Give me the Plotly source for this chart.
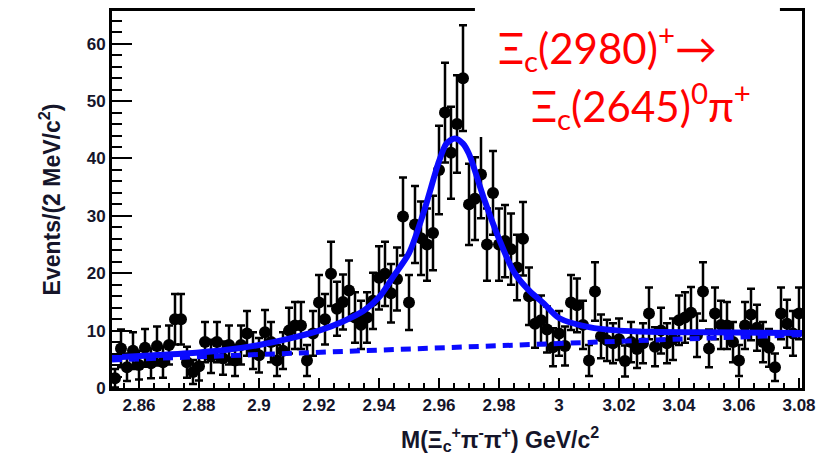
import plotly.graph_objects as go

# ---- histogram binning (2 MeV bins) ----
BIN_START = 2.852   # centre of first bin, GeV
BIN_WIDTH = 0.002

# events per bin
events = [
    1.7, 6.9, 3.6, 6.5, 4.0, 7.0, 4.3, 7.3, 4.5, 7.5,
    12.0, 12.0, 4.5, 2.8, 3.8, 8.0, 5.5, 8.0, 5.2, 7.5,
    4.8, 7.5, 9.5, 6.5, 5.7, 9.7, 8.0, 4.8, 6.5, 10.0,
    10.9, 10.9, 4.8, 9.5, 14.9, 12.0, 19.9, 13.8, 15.0, 17.0,
    12.3, 11.0, 12.3, 15.2, 19.2, 19.9, 16.5, 19.0, 29.9, 14.9,
    28.5, 26.1, 25.0, 27.0, 38.0, 48.0, 41.0, 46.0, 54.0, 32.0,
    33.0, 37.2, 25.0, 34.0, 25.0, 25.6, 24.2, 21.0, 26.0, 16.0,
    11.2, 11.8, 10.2, 7.1, 9.5, 7.3, 14.9, 14.4, 11.0, 4.8,
    16.8, 9.0, 8.3, 7.8, 8.5, 4.7, 8.0, 6.8, 7.8, 13.0,
    7.2, 10.0, 7.8, 8.5, 11.8, 12.3, 13.1, 9.2, 16.8, 6.9,
    13.0, 11.0, 10.9, 8.0, 4.8, 10.9, 12.8, 10.5, 8.0, 7.0,
    3.6, 13.0, 11.2, 9.5, 13.0,
]
errors = [
    1.6, 3.3, 2.4, 3.2, 2.5, 3.3, 2.6, 3.4, 2.7, 3.4,
    4.4, 4.4, 2.7, 2.1, 2.5, 3.5, 2.9, 3.5, 2.9, 3.4,
    2.7, 3.4, 3.9, 3.2, 3.0, 3.9, 3.5, 2.7, 3.2, 4.0,
    4.1, 4.1, 2.7, 3.9, 4.8, 4.4, 5.6, 4.7, 4.8, 5.2,
    4.4, 4.2, 4.4, 4.9, 5.5, 5.6, 5.1, 5.5, 6.8, 4.8,
    6.7, 6.4, 6.3, 6.5, 7.7, 8.7, 8.0, 8.5, 9.2, 7.1,
    7.2, 7.6, 6.3, 7.3, 6.3, 6.3, 6.2, 5.7, 6.4, 5.0,
    4.2, 4.3, 4.0, 3.3, 3.9, 3.4, 4.8, 4.7, 4.2, 2.7,
    5.1, 3.8, 3.6, 3.5, 3.6, 2.7, 3.5, 3.3, 3.5, 4.5,
    3.4, 4.0, 3.5, 3.6, 4.3, 4.4, 4.5, 3.8, 5.1, 3.3,
    4.5, 4.2, 4.1, 3.5, 2.7, 4.1, 4.5, 4.0, 3.5, 3.3,
    2.4, 4.5, 4.2, 3.9, 4.5,
]
mass = [round(BIN_START + BIN_WIDTH * i, 4) for i in range(len(events))]

# total fit curve
fit_x = [2.851, 2.865, 2.880, 2.890, 2.900, 2.910, 2.920, 2.928, 2.935, 2.940,
         2.945, 2.950, 2.955, 2.960, 2.9625, 2.9653, 2.968, 2.970, 2.975, 2.980,
         2.985, 2.990, 2.995, 3.000, 3.010, 3.020, 3.030, 3.050, 3.081]
fit_y = [5.3, 5.7, 6.2, 6.7, 7.5, 8.6, 10.0, 11.6, 13.5, 15.8,
         19.6, 23.5, 30.8, 39.5, 42.6, 43.5, 42.6, 40.8, 33.0, 26.0,
         20.2, 17.0, 14.7, 12.2, 10.6, 10.0, 9.8, 9.7, 9.6]

# background component (dashed)
bkg_x = [2.851, 2.900, 2.950, 3.000, 3.050, 3.081]
bkg_y = [4.9, 5.8, 6.8, 7.7, 8.7, 9.3]

x_tickvals = [2.86, 2.88, 2.90, 2.92, 2.94, 2.96, 2.98, 3.00, 3.02, 3.04, 3.06, 3.08]
x_ticktext = ["2.86", "2.88", "2.9", "2.92", "2.94", "2.96", "2.98", "3", "3.02", "3.04", "3.06", "3.08"]
y_tickvals = [0, 10, 20, 30, 40, 50, 60]

BLUE = "#0a0aff"
INK = "#15152a"
SANS = "Liberation Sans, Arial, sans-serif"

fig = go.Figure()
fig.add_trace(go.Scatter(
    x=mass, y=events, mode="markers",
    marker=dict(color="black", size=12),
    error_y=dict(type="data", array=errors, color="black", thickness=2.5, width=4),
    showlegend=False,
))
fig.add_trace(go.Scatter(
    x=bkg_x, y=bkg_y, mode="lines",
    line=dict(color=BLUE, width=5, dash="10px,7px"),
    showlegend=False,
))
fig.add_trace(go.Scatter(
    x=fit_x, y=fit_y, mode="lines",
    line=dict(color=BLUE, width=6, shape="spline", smoothing=0.8),
    showlegend=False,
))

axis_font = dict(family=SANS, size=17, color=INK, weight="bold")

fig.update_layout(
    width=825, height=459,
    margin=dict(l=112, r=23, t=8, b=71),
    paper_bgcolor="white", plot_bgcolor="white",
    xaxis=dict(
        range=[2.851, 3.081],
        tickvals=x_tickvals, ticktext=x_ticktext,
        ticks="inside", ticklen=10, tickwidth=2, tickcolor="black",
        minor=dict(dtick=0.005, tick0=2.86, ticks="inside", ticklen=5, tickwidth=1.5, tickcolor="black"),
        showline=True, linecolor="black", linewidth=3, mirror=True,
        showgrid=False, zeroline=False,
        tickfont=axis_font,
    ),
    yaxis=dict(
        range=[0, 65.7],
        tickvals=y_tickvals,
        ticks="inside", ticklen=20, tickwidth=2, tickcolor="black",
        minor=dict(dtick=2, ticks="inside", ticklen=10, tickwidth=1.5, tickcolor="black"),
        showline=True, linecolor="black", linewidth=3, mirror=True,
        showgrid=False, zeroline=False,
        tickfont=axis_font,
        title=dict(text="Events/(2 MeV/c<sup>2</sup>)",
                   font=dict(family=SANS, size=23, color=INK, weight="bold"),
                   standoff=20),
    ),
    shapes=[dict(type="rect", xref="paper", yref="paper",
                 x0=0.526, x1=0.968, y0=0.666, y1=1.05,
                 fillcolor="white", line=dict(width=0), layer="above")],
    annotations=[
        dict(text="M(Ξ<sub>c</sub><sup>+</sup>π<sup>-</sup>π<sup>+</sup>) GeV/c<sup>2</sup>",
             xref="paper", yref="paper", x=0.562, y=-0.135, xanchor="center", yanchor="middle",
             showarrow=False, borderpad=0,
             font=dict(family=SANS, size=23, color=INK, weight="bold")),
        dict(text="Ξ<sub>c</sub>(2980)<sup>+</sup>→", xref="paper", yref="paper",
             x=0.558, y=0.903, xanchor="left", yanchor="middle", showarrow=False,
             borderpad=0, font=dict(family="Lato, Open Sans, sans-serif", size=42, color="#ff0000")),
        dict(text="Ξ<sub>c</sub>(2645)<sup>0</sup>π<sup>+</sup>", xref="paper", yref="paper",
             x=0.606, y=0.75, xanchor="left", yanchor="middle", showarrow=False,
             borderpad=0, font=dict(family="Lato, Open Sans, sans-serif", size=42, color="#ff0000")),
    ],
)

fig.write_html("out.html")
